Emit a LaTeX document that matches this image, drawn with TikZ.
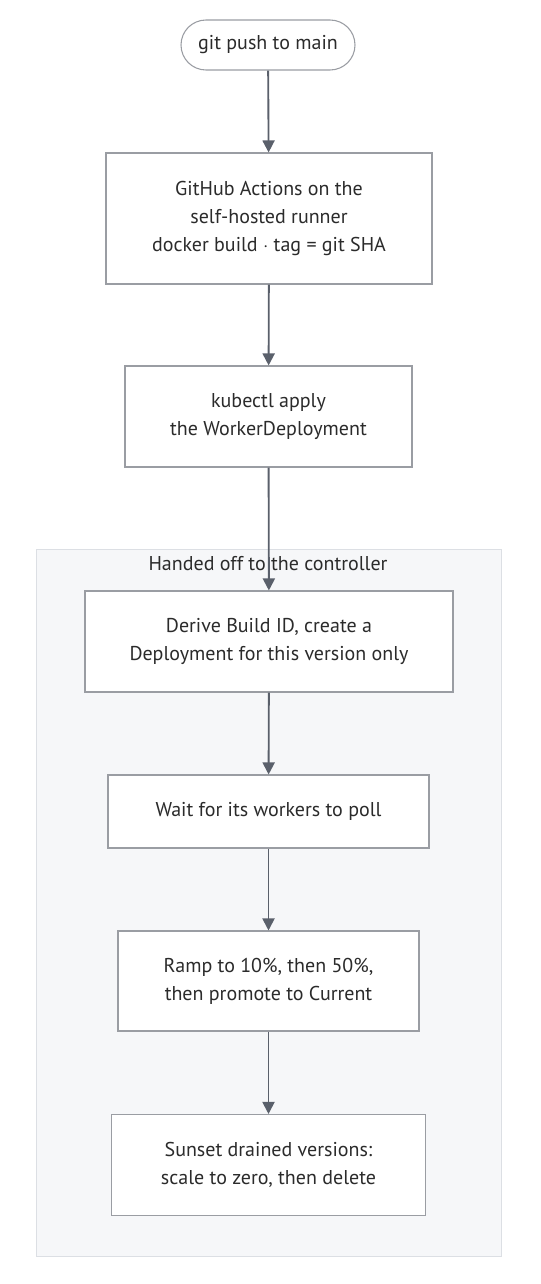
\documentclass[tikz,border=0pt]{standalone}
\usepackage{fontspec}
\setmainfont{PT Sans}
\usetikzlibrary{arrows.meta}
\definecolor{boxline}{HTML}{9A9DA3}
\definecolor{flowline}{HTML}{5A606B}
\definecolor{clusterfill}{HTML}{F6F7F9}
\definecolor{clusterline}{HTML}{DCDFE4}
\definecolor{textcol}{HTML}{2B2B2B}
\tikzset{
	stepbox/.style={draw=boxline, fill=white, line width=0.8pt, inner sep=0pt, text=textcol},
	startbox/.style={stepbox, rounded corners=18.75pt},
	flow/.style={draw=flowline, line width=1.4pt, -{Triangle[length=9pt, width=9pt]}}
}

\begin{document}
\begin{tikzpicture}[x=0.75pt, y=-0.75pt, every node/.style={font=\fontsize{15}{21}\selectfont, align=center}]
		\useasboundingbox (0,0) rectangle (540,1284);
		%
		%controller cluster
		\draw[fill=clusterfill, draw=clusterline, line width=0.8pt] (36.5,549.5) rectangle (501.5,1256.5);
		\node[text=textcol] (handoff) at (268,564) {Handed off to the controller};
		%
		%git push
		\node[startbox, minimum width=130.5pt, minimum height=37.5pt] (push) at (268,45) {git push to main};
		%
		%CI build
		\node[stepbox, minimum width=244.5pt, minimum height=98.25pt] (actions) at (269,218.5) {GitHub Actions on the\\self-hosted runner\\docker build $\cdot$ tag = git SHA};
		%
		%apply
		\node[stepbox, minimum width=215.25pt, minimum height=75.75pt] (apply) at (268.5,416.5) {kubectl apply\\the WorkerDeployment};
		%
		%controller steps
		\node[stepbox, minimum width=276pt, minimum height=75.75pt] (derive) at (269,641.5) {Derive Build ID, create a\\Deployment for this version only};
		\node[stepbox, minimum width=240.75pt, minimum height=54.75pt] (wait) at (268.5,811.5) {Wait for its workers to poll};
		\node[stepbox, minimum width=225.75pt, minimum height=75pt] (ramp) at (268.5,981) {Ramp to 10\%, then 50\%,\\then promote to Current};
		\node[stepbox, minimum width=235.5pt, minimum height=75.75pt] (sunset) at (268.5,1165) {Sunset drained versions:\\scale to zero, then delete};
		%
		%arrows
		\draw[flow] (push) -- (actions);
		\draw[flow] (actions) -- (apply);
		\draw[flow] (apply) -- (derive);
		\draw[flow] (derive) -- (wait);
		\draw[flow] (wait) -- (ramp);
		\draw[flow] (ramp) -- (sunset);
	\end{tikzpicture}
\end{document}
